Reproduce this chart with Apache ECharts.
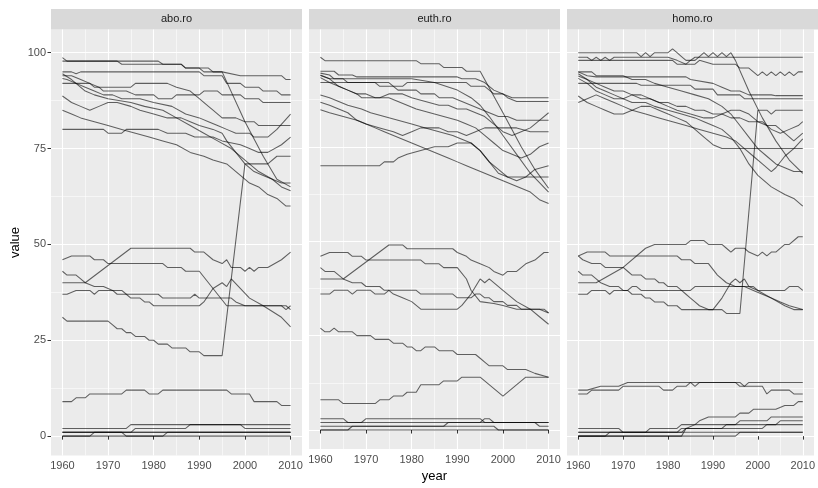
<!DOCTYPE html>
<html>
<head>
<meta charset="utf-8">
<script src="https://cdn.jsdelivr.net/npm/echarts@6/dist/echarts.min.js"></script>
<style>
  html, body { margin: 0; padding: 0; background: #ffffff; }
  #chart { width: 818px; height: 488px; }
</style>
</head>
<body>
<div id="chart"></div>
<script>
// Facet labels, tick positions
const panels = ['abo.ro', 'euth.ro', 'homo.ro'];
const yTicks = [0, 25, 50, 75, 100];
const yMinor = [12.5, 37.5, 62.5, 87.5];
const xTicks = [1960, 1970, 1980, 1990, 2000, 2010];
const xMinor = [1965, 1975, 1985, 1995, 2005];

// Each line: [year, value] vertices
const aboLines = [
  [[1960,98.7],[1961,97.8],[1972,97.8],[1973,97],[1986,97],[1987,96],[1992,96],[1993,95],[1995,95],[1999,94],[2008,94],[2009,93],[2010,93]],
  [[1960,97.8],[1981,97.8],[1982,97],[1986,97],[1987,96],[1990,96],[1991,95],[1995,95],[2000,82],[2004,73],[2007,67],[2010,65]],
  [[1960,95],[1962,95],[1963,94.5],[1964,95],[1990,95],[1991,94],[1995,94],[1996,92],[1999,92],[2000,91],[2003,91],[2004,90],[2007,90],[2008,89],[2010,89]],
  [[1960,94.5],[1962,93],[1965,90],[1967,89],[1970,88],[1975,87],[1978,86],[1982,85],[1985,83],[1988,81],[1991,79],[1994,77],[1997,75],[2000,72],[2003,69],[2006,67],[2008,65],[2010,64]],
  [[1960,94],[1962,94],[1964,93],[1966,92],[1968,91],[1969,90],[1974,90],[1976,89],[1980,89],[1981,88],[1984,88],[1985,89],[1990,89],[1991,90],[1994,90],[1995,89],[1999,89],[2000,88],[2003,88],[2004,87],[2010,87]],
  [[1960,93.3],[1961,93],[1963,92],[1965,91],[1967,90],[1969,89],[1971,89],[1973,88],[1977,88],[1980,87],[1984,86],[1987,84],[1990,83],[1992,82],[1994,81],[1996,80],[1998,79],[2001,79],[2002,78],[2005,78],[2007,80],[2010,84]],
  [[1960,92],[1966,92],[1967,91],[1975,91],[1976,92],[1983,92],[1985,91],[1988,90],[1990,88],[1992,86],[1993,85],[1995,83],[1998,83],[2000,82],[2002,82],[2003,81],[2010,81]],
  [[1960,88.7],[1962,87],[1964,86],[1966,85],[1968,86],[1970,87],[1972,87],[1975,86],[1977,85],[1980,84],[1983,83],[1986,83],[1988,82],[1990,81],[1993,80],[1995,79],[1996,77],[1998,74],[2000,71],[2002,69],[2004,68],[2006,67],[2008,66],[2010,66]],
  [[1960,85],[1962,84],[1964,83],[1967,82],[1970,81],[1973,80],[1976,79],[1979,78],[1982,77],[1985,76],[1988,74],[1991,73],[1993,72],[1996,71],[1999,68],[2001,66],[2003,65],[2005,63],[2007,62],[2009,60],[2010,60]],
  [[1960,80],[1969,80],[1970,79],[1973,79],[1974,80],[1981,80],[1983,79],[1987,79],[1989,78],[1993,78],[1995,77],[1999,76],[2001,75],[2003,74],[2005,74],[2008,76],[2010,78]],
  [[1960,31],[1961,30],[1970,30],[1971,29],[1972,28],[1973,28],[1974,27],[1975,27],[1976,26],[1978,26],[1979,25],[1980,25],[1981,24],[1983,24],[1984,23],[1987,23],[1988,22],[1990,22],[1991,21],[1995,21],[2000,71],[2005,71],[2007,73],[2010,73]],
  [[1960,46],[1962,47],[1966,47],[1967,46],[1969,46],[1970,45],[1982,45],[1983,44],[1986,44],[1987,43],[1990,43],[1995,35.5],[1996,34],[2009,34],[2010,33]],
  [[1960,40],[1965,40],[1975,49],[1988,49],[1989,48],[1991,48],[1993,46],[1995,45],[1996,46],[1997,44],[1999,44],[2000,43],[2001,44],[2002,43],[2003,44],[2005,44],[2008,46],[2010,48]],
  [[1960,43],[1961,42],[1963,42],[1964,41],[1965,40],[1967,39],[1969,39],[1971,38],[1972,37],[1974,37],[1975,36],[1977,36],[1978,35],[1979,35],[1980,34],[1990,34],[1991,35],[1993,38.5],[1995,40],[1996,39],[1997,41],[2001,36],[2004,34],[2008,31],[2010,28.5]],
  [[1960,37],[1961,37],[1963,38],[1966,38],[1967,37],[1968,38],[1973,38],[1974,37],[1981,37],[1982,36],[1988,36],[1989,37],[1990,36],[1997,36],[1998,35],[2000,34],[2008,34],[2009,33],[2010,34]],
  [[1960,9],[1962,9],[1963,10],[1965,10],[1966,11],[1973,11],[1974,12],[1978,12],[1979,11],[1981,11],[1982,12],[1996,12],[1997,11],[2001,11],[2002,9],[2007,9],[2008,8],[2010,8]],
  [[1960,2],[1974,2],[1975,3],[2010,3]],
  [[1960,1],[1975,1],[1976,2],[1987,2],[1988,3],[1999,3],[2000,2],[2010,2]],
  [[1960,1],[2010,1]],
  [[1960,1],[2010,1]],
  [[1960,0],[1966,0],[1967,1],[1973,1],[1974,0],[1982,0],[1983,1],[2010,1]],
  [[1960,0],[2010,0]]
];

const euthLines = [
  [[1960,98.7],[1961,97.8],[1981,97.8],[1982,97],[1986,97],[1987,96],[1991,96],[1992,95],[1995,95],[2000,84],[2004,75],[2007,69],[2010,64]],
  [[1960,95],[1963,95],[1964,94],[1967,94],[1968,93.5],[1990,93.5],[1991,93],[1994,93],[1996,92],[1998,90],[2000,89],[2002,88],[2010,88]],
  [[1960,94.5],[1962,94],[1963,93],[1965,93],[1966,92],[1975,92],[1976,91],[1978,91],[1979,92],[1992,92],[1993,91],[1996,91],[1997,90],[1998,89],[2000,89],[2001,88],[2003,87],[2010,87]],
  [[1960,93.9],[1962,93],[1964,91],[1966,90],[1968,89],[1970,89],[1972,88],[1975,88],[1977,87],[1979,86],[1981,85],[1984,84],[1987,83],[1990,82],[1992,81],[1994,80],[1996,78],[1998,76],[2000,74],[2002,73],[2004,72],[2006,73],[2008,75],[2010,76]],
  [[1960,93.3],[1962,92],[1964,91],[1966,90],[1968,89],[1969,88],[1973,88],[1975,89],[1978,89],[1980,88],[1983,87],[1986,86],[1988,86],[1990,85],[1992,85],[1994,84],[1996,83],[1998,81],[2000,79],[2002,78],[2004,79],[2006,80],[2008,82],[2010,84]],
  [[1960,92],[1972,92],[1973,91],[1976,91],[1977,90],[1981,90],[1982,89],[1985,89],[1986,88],[1989,88],[1991,87],[1993,86],[1995,85],[1997,84],[1999,83],[2001,83],[2003,82],[2006,82],[2010,82]],
  [[1960,88.7],[1962,88],[1964,87],[1966,86],[1969,85],[1971,84],[1974,83],[1977,82],[1980,81],[1983,80],[1986,79],[1989,78],[1991,77],[1993,76],[1995,74],[1997,71],[1999,68],[2001,67],[2003,67],[2005,67],[2010,67]],
  [[1960,86.8],[1962,86],[1964,85],[1966,84],[1968,82],[1970,81],[1972,80],[1974,79],[1976,78],[1978,77],[1980,76],[1982,75],[1984,74],[1986,73],[1988,72],[1990,71],[1992,70],[1994,69],[1996,68],[1998,67],[2000,66],[2002,65],[2004,64],[2006,63],[2008,61],[2010,60]],
  [[1960,84.8],[1962,84],[1965,83],[1968,82],[1970,81],[1973,80],[1976,79],[1978,78],[1980,79],[1982,80],[1986,80],[1988,79],[1990,79],[1992,78],[1994,79],[1996,80],[2000,80],[2003,80],[2006,79],[2010,79]],
  [[1960,70],[1973,70],[1974,71],[1976,71],[1977,72],[1979,73],[1982,74],[1985,75],[1988,75],[1990,76],[1993,76],[1995,74],[1997,71],[1999,69],[2001,67],[2003,66],[2005,67],[2007,69],[2010,70]],
  [[1960,94],[1962,93],[1975,93],[1980,93],[1985,92],[1990,90],[1993,88],[1995,86],[1997,83],[2000,78],[2003,73],[2006,68],[2010,63]],
  [[1960,46],[1962,47],[1966,47],[1967,46],[1969,46],[1970,45],[1982,45],[1983,44],[1986,44],[1987,43],[1990,43],[1992,40],[1993,37],[1995,34],[1998,33.5],[2000,33],[2003,32],[2008,32],[2010,31]],
  [[1960,40],[1965,40],[1975,49],[1978,49],[1979,48],[1989,48],[1990,47],[1992,46],[1993,45],[1995,44],[1997,43],[1998,42],[2000,41],[2001,42],[2003,42],[2005,44],[2007,45],[2009,47],[2010,47]],
  [[1960,43],[1961,42],[1963,42],[1964,41],[1965,40],[1967,39],[1969,39],[1970,38],[1973,38],[1974,37],[1975,37],[1976,36],[1978,35],[1980,34],[1982,32],[1990,32],[1991,33],[1993,36],[1995,40],[1996,39],[1997,40],[2000,37],[2003,34],[2006,32],[2008,30],[2010,28]],
  [[1960,36],[1962,36],[1963,37],[1966,37],[1967,36],[1968,37],[1971,37],[1972,36],[1974,36],[1975,37],[1981,37],[1982,36],[1989,36],[1990,35],[1993,35],[1994,36],[1995,36],[1996,35],[1997,35],[1998,34],[2000,34],[2001,33],[2003,33],[2004,32],[2009,32],[2010,31]],
  [[1960,27],[1961,26],[1962,26],[1963,27],[1964,26],[1967,26],[1968,25],[1971,25],[1972,24],[1975,24],[1976,23],[1978,23],[1979,22],[1980,22],[1981,21],[1982,21],[1983,22],[1985,22],[1986,21],[1989,21],[1990,20],[1994,20],[1995,19],[1996,18],[1997,17],[2000,17],[2001,16],[2005,16],[2007,15],[2010,14]],
  [[1960,8],[1964,8],[1965,7],[1972,7],[1973,8],[1975,8],[1976,9],[1978,9],[1979,10],[1981,10],[1982,12],[1986,12],[1987,13],[1990,13],[1991,14],[1995,14],[2000,9],[2005,14],[2010,14]],
  [[1960,3],[1965,3],[1966,2],[1969,2],[1970,3],[1995,3],[1996,2],[2010,2]],
  [[1960,2],[1995,2],[1996,3],[1997,3],[1998,2],[2007,2],[2008,1],[2010,1]],
  [[1960,1],[1987,1],[1988,2],[2010,2]],
  [[1960,0],[1966,0],[1967,1],[1998,1],[1999,0],[2010,0]],
  [[1960,0],[2010,0]]
];

const homoLines = [
  [[1960,100],[1973,100],[1974,99],[1975,100],[1976,99],[1977,100],[1980,100],[1981,101],[1982,100],[1983,99],[1984,98],[1986,98],[1987,99],[1988,100],[1989,99],[1990,100],[1991,99],[1992,100],[1993,99],[1994,100],[1995,98],[1998,90],[2001,83],[2004,77],[2007,72],[2010,68.5]],
  [[1960,98.8],[1962,98.8],[1963,98],[1964,98.8],[1965,98],[1966,98.8],[1967,98],[1968,98.8],[1980,98.8],[1982,98],[1984,97],[1985,98],[1986,98.8],[2010,98.8]],
  [[1960,98],[1981,98],[1982,97],[1986,97],[1987,98],[1990,97],[1995,97],[1996,96],[1998,96],[1999,95],[2000,94],[2001,95],[2002,94],[2003,95],[2004,94],[2005,95],[2006,94],[2007,95],[2008,94],[2009,95],[2010,95]],
  [[1960,95],[1962,94],[1964,93.7],[1984,93.7],[1985,93],[1990,92],[1992,91],[1994,90],[1996,90],[1998,89],[2003,89],[2004,88.8],[2010,88.8]],
  [[1960,92],[1973,92],[1974,91.5],[1985,91.5],[1986,90.5],[1990,90.5],[1991,89],[1996,89],[1997,88],[2010,88]],
  [[1960,94.5],[1962,93],[1964,91],[1966,90],[1968,89],[1970,88],[1972,87],[1975,87],[1977,86],[1980,85],[1983,84],[1986,83],[1988,82],[1990,81],[1992,80],[1994,78],[1996,75],[1998,71],[2000,68],[2003,65],[2006,63],[2008,62],[2010,60]],
  [[1960,93.9],[1962,93],[1964,92],[1966,91],[1968,90],[1970,90],[1972,89],[1974,88],[1976,88],[1978,87],[1980,87],[1982,86],[1984,86],[1986,85],[1988,85],[1990,84],[1992,84],[1994,83],[1996,83],[1998,82],[2001,82],[2003,80],[2005,79],[2007,80],[2009,81],[2010,82]],
  [[1960,93.3],[1962,92],[1964,90],[1966,89],[1968,88],[1970,88],[1972,89],[1974,89],[1976,88],[1978,87],[1980,86],[1982,85],[1985,84],[1988,83],[1990,83],[1992,84],[1994,85],[1996,85],[1998,84],[2000,82],[2002,81],[2004,81],[2006,79],[2008,77],[2010,79]],
  [[1960,88.7],[1962,87],[1964,86],[1966,85],[1968,84],[1970,84],[1972,85],[1974,86],[1976,86],[1978,85],[1980,84],[1982,83],[1984,82],[1986,80],[1988,78],[1990,76],[1992,75],[2010,75]],
  [[1960,87],[1962,88],[1964,89],[1966,88],[1968,87],[1970,86],[1972,85],[1975,84],[1978,83],[1981,82],[1984,81],[1987,80],[1990,79],[1993,78],[1995,77],[1997,75],[1999,73],[2001,71],[2003,69],[2004,70],[2006,73],[2008,75],[2010,77.5]],
  [[1960,95],[1963,95],[1964,94],[1970,94],[1972,93],[1975,93],[1977,92],[1980,91],[1983,90],[1986,89],[1989,88],[1992,86],[1994,84],[1996,81],[1998,78],[2000,75],[2002,73],[2004,71],[2006,70],[2008,69],[2010,69]],
  [[1960,47],[1961,46],[1963,45],[1965,45],[1966,44],[1970,44],[1971,43],[1972,42],[1974,42],[1975,41],[1977,41],[1978,40],[1979,40],[1980,39],[1982,39],[1983,38],[1984,37],[1985,36],[1986,35],[1987,34],[1989,33],[1992,33],[1993,32],[1996,32],[2000,85],[2002,85],[2003,84],[2004,85],[2010,85]],
  [[1960,47],[1962,48],[1966,48],[1967,47],[1982,47],[1983,46],[1985,46],[1986,45],[1989,45],[1991,42],[1993,40],[1995,39],[1997,39],[1999,38],[2001,37],[2003,36],[2005,35],[2007,34],[2010,33]],
  [[1960,43],[1961,42],[1963,42],[1964,41],[1965,40],[1967,39],[1969,39],[1970,38],[1971,38],[1972,37],[1974,37],[1975,36],[1976,36],[1977,35],[1979,35],[1980,34],[1982,34],[1983,33],[1990,33],[1992,36],[1994,40],[1995,41],[1996,40],[1997,41],[1998,39],[2000,38],[2003,36],[2006,34],[2008,33],[2010,33]],
  [[1960,40],[1964,40],[1970,44],[1975,49],[1977,50],[1984,50],[1985,51],[1988,51],[1989,50],[1992,50],[1993,49],[1994,48],[1995,49],[1997,49],[1998,48],[2000,47],[2001,48],[2002,47],[2003,48],[2004,48],[2006,50],[2007,50],[2009,52],[2010,52]],
  [[1960,37],[1962,37],[1963,38],[1966,38],[1967,37],[1968,38],[1971,38],[1972,39],[1973,39],[1974,38],[1985,38],[1986,39],[1999,39],[2000,38],[2006,38],[2007,39],[2009,39],[2010,38]],
  [[1960,12],[1962,12],[1965,13],[1969,13],[1971,14],[1985,14],[1986,13],[1987,14],[1996,14],[1997,13],[1998,14],[2010,14]],
  [[1960,11],[1962,11],[1963,12],[1969,12],[1970,13],[1978,13],[1979,12],[1981,12],[1982,13],[1984,13],[1985,14],[1995,14],[1996,13],[2001,13],[2002,11],[2003,12],[2007,12],[2008,11],[2010,11]],
  [[1960,0],[1983,0],[1984,2],[1986,3],[1987,4],[1989,5],[1995,5],[1996,6],[1998,6],[1999,7],[2004,7],[2006,8],[2008,8],[2009,9],[2010,9]],
  [[1960,2],[1969,2],[1970,1],[1975,1],[1976,2],[1982,2],[1983,3],[1995,3],[1996,4],[2002,4],[2003,5],[2010,5]],
  [[1960,1],[1982,1],[1983,2],[1992,2],[1993,3],[2004,3],[2005,4],[2010,4]],
  [[1960,0],[1966,0],[1967,1],[1983,1],[1984,2],[2001,2],[2002,3],[2010,3]],
  [[1960,0],[1995,0],[1996,1],[2010,1]],
  [[1960,1],[2010,1]]
];

const panelLines = [aboLines, euthLines, homoLines];

// Layout of the three facets
const panelLeft = [51, 309, 567];
const panelWidth = 251;
const panelTop = 29.5;
const panelHeight = 426;
const stripHeight = 20.5;
const X_MIN = 1957.5, X_MAX = 2012.5;
const Y_MIN = -5.05, Y_MAX = 106.05;
const FONT = '"Liberation Sans", Arial, sans-serif';
const plain = v => String(v);

const grids = [], xAxes = [], yAxes = [], series = [], graphics = [];

panels.forEach((name, i) => {
  grids.push({
    left: panelLeft[i], top: panelTop, width: panelWidth, height: panelHeight,
    show: true, backgroundColor: '#EBEBEB', borderWidth: 0, containLabel: false
  });
  // major x axis
  xAxes.push({
    type: 'value', gridIndex: i, min: X_MIN, max: X_MAX,
    name: i === 1 ? 'year' : '', nameLocation: 'middle', nameGap: 20,
    nameTextStyle: { fontFamily: FONT, fontSize: 13, color: '#000000' },
    axisLine: { show: false },
    axisTick: { show: true, customValues: xTicks, length: 3.5, lineStyle: { color: '#333333', width: 1 } },
    axisLabel: { show: true, customValues: xTicks, margin: 5, fontFamily: FONT, fontSize: 11, color: '#4D4D4D',
                 formatter: plain, showMinLabel: true, showMaxLabel: true },
    splitLine: { show: true, lineStyle: { color: '#FFFFFF', width: 1.1 } }
  });
  // minor x axis
  xAxes.push({
    type: 'value', gridIndex: i, min: X_MIN, max: X_MAX,
    axisLine: { show: false },
    axisTick: { show: false, customValues: xMinor },
    axisLabel: { show: false, customValues: xMinor },
    splitLine: { show: true, lineStyle: { color: '#FFFFFF', width: 0.55 } }
  });
  // major y axis
  yAxes.push({
    type: 'value', gridIndex: i, min: Y_MIN, max: Y_MAX,
    name: i === 0 ? 'value' : '', nameLocation: 'middle', nameGap: 29, nameRotate: 90,
    nameTextStyle: { fontFamily: FONT, fontSize: 13, color: '#000000' },
    axisLine: { show: false },
    axisTick: { show: i === 0, customValues: yTicks, length: 3.5, lineStyle: { color: '#333333', width: 1 } },
    axisLabel: { show: i === 0, customValues: yTicks, margin: 5, fontFamily: FONT, fontSize: 11, color: '#4D4D4D',
                 formatter: plain },
    splitLine: { show: true, lineStyle: { color: '#FFFFFF', width: 1.1 } }
  });
  // minor y axis
  yAxes.push({
    type: 'value', gridIndex: i, min: Y_MIN, max: Y_MAX,
    axisLine: { show: false },
    axisTick: { show: false, customValues: yMinor },
    axisLabel: { show: false, customValues: yMinor },
    splitLine: { show: true, lineStyle: { color: '#FFFFFF', width: 0.55 } }
  });

  panelLines[i].forEach(pts => {
    series.push({
      type: 'line', xAxisIndex: i * 2, yAxisIndex: i * 2, data: pts,
      symbol: 'none', silent: true, animation: false,
      lineStyle: { color: 'rgba(0,0,0,0.6)', width: 1.05 }
    });
  });

  // facet strip
  graphics.push({
    type: 'rect', left: panelLeft[i], top: panelTop - stripHeight,
    shape: { width: panelWidth, height: stripHeight },
    style: { fill: '#D9D9D9' }, silent: true
  });
  graphics.push({
    type: 'text', x: panelLeft[i] + panelWidth / 2, y: panelTop - stripHeight / 2,
    style: { text: name, fill: '#1A1A1A', font: '11px ' + FONT, textAlign: 'center', textVerticalAlign: 'middle' },
    silent: true
  });
});

const chart = echarts.init(document.getElementById('chart'), null, { renderer: 'canvas' });
chart.setOption({
  animation: false,
  backgroundColor: '#FFFFFF',
  grid: grids,
  xAxis: xAxes,
  yAxis: yAxes,
  series: series,
  graphic: graphics
});
</script>
</body>
</html>
